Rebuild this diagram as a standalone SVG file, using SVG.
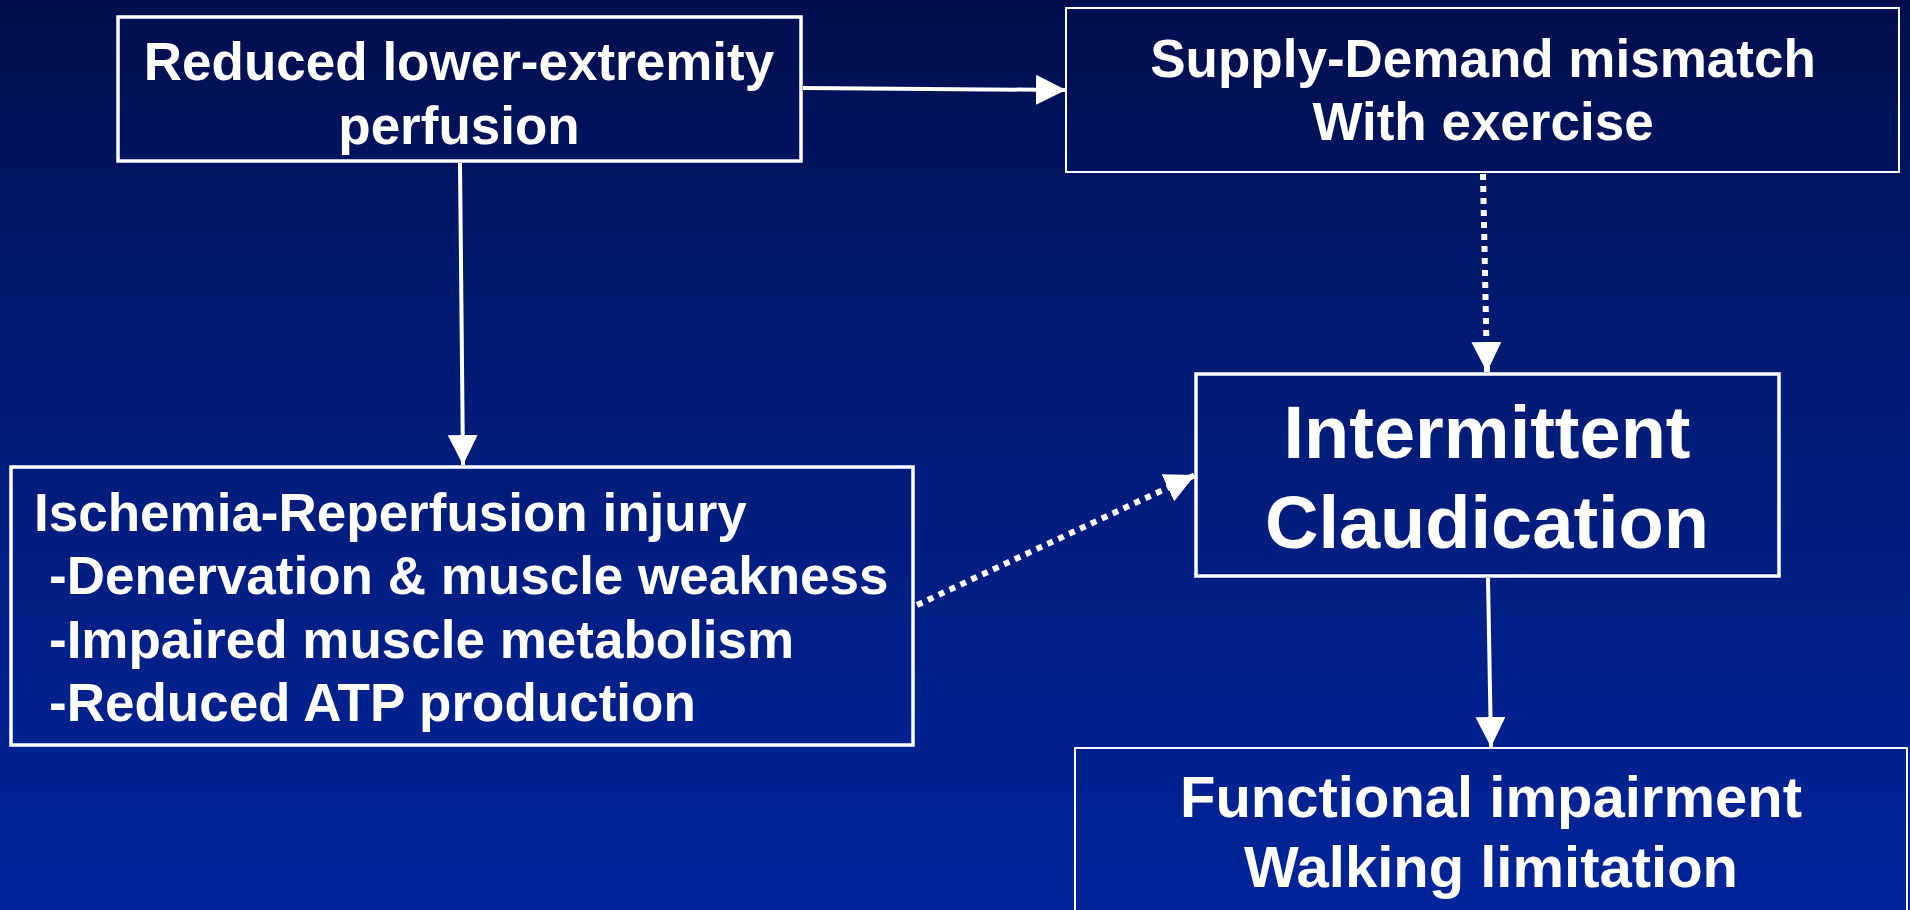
<svg xmlns="http://www.w3.org/2000/svg" width="1910" height="910" viewBox="0 0 1910 910">
<defs>
<linearGradient id="bg" x1="0" y1="0" x2="0" y2="1">
<stop offset="0" stop-color="#000e4c"/>
<stop offset="0.35" stop-color="#001a70"/>
<stop offset="1" stop-color="#00249a"/>
</linearGradient>
<marker id="arr" viewBox="0 0 30 30" refX="30" refY="15" markerWidth="30" markerHeight="30" markerUnits="userSpaceOnUse" orient="auto">
<path d="M0,0 L30,15 L0,30 Z" fill="#ffffff"/>
</marker>
</defs>
<style>
.box{fill:none;stroke:#ffffff;stroke-width:3.5}
.thin{stroke-width:2}
.t{font-family:"Liberation Sans",Arial,sans-serif;font-weight:bold;fill:#ffffff;font-size:53px}
.c{text-anchor:middle}
.big{font-size:74px}
.mid{font-size:58px}
.solid{stroke:#ffffff;stroke-width:4;fill:none}
.dot{stroke:#ffffff;stroke-width:6;fill:none;stroke-dasharray:6 6}
</style>
<rect x="0" y="0" width="1910" height="910" fill="url(#bg)"/>
<g id="n1">
<rect class="box" x="118" y="17" width="683" height="144"/>
<text class="t c" x="459" y="80">Reduced lower-extremity</text>
<text class="t c" x="459" y="144">perfusion</text>
</g>
<g id="n2">
<rect class="box thin" x="1066" y="8" width="833" height="164"/>
<text class="t c" x="1483" y="77">Supply-Demand mismatch</text>
<text class="t c" x="1483" y="140">With exercise</text>
</g>
<g id="n3">
<rect class="box" x="11" y="467" width="902" height="278"/>
<text class="t" x="34" y="531">Ischemia-Reperfusion injury</text>
<text class="t" x="49" y="594">-Denervation &amp; muscle weakness</text>
<text class="t" x="49" y="658">-Impaired muscle metabolism</text>
<text class="t" x="49" y="721">-Reduced ATP production</text>
</g>
<g id="n4">
<rect class="box" x="1196" y="374" width="583" height="202"/>
<text class="t c big" x="1487" y="458">Intermittent</text>
<text class="t c big" x="1487" y="548">Claudication</text>
</g>
<g id="n5">
<rect class="box thin" x="1075" y="748" width="832" height="180"/>
<text class="t c mid" x="1491" y="817">Functional impairment</text>
<text class="t c mid" x="1491" y="887">Walking limitation</text>
</g>
<g id="connectors">
<path class="solid" d="M803,88 L1066,90" marker-end="url(#arr)"/>
<path class="solid" d="M460,163 L463,465" marker-end="url(#arr)"/>
<path class="dot" d="M1483,174 L1487,372" marker-end="url(#arr)"/>
<path class="dot" d="M917,605 L1195,475" marker-end="url(#arr)"/>
<path class="solid" d="M1488,578 L1491,747" marker-end="url(#arr)"/>
</g>
</svg>
